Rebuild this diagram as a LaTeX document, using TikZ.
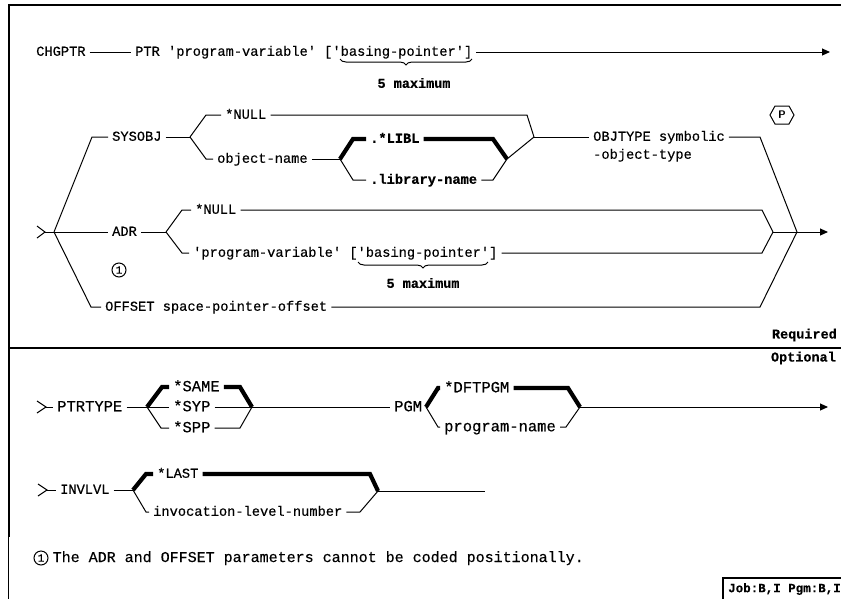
\documentclass[tikz,border=0pt]{standalone}
\usepackage{fontspec}
\setmonofont{Liberation Mono}[FakeBold=0.4]
\usetikzlibrary{arrows.meta,decorations.pathreplacing,positioning}

\newcommand\sq{\textquotesingle}

\tikzset{
  rail/.style={line width=1pt},
  dflt/.style={line width=4.2pt, line join=miter},
  frame/.style={line width=1.7pt},
  kw/.style={font=\ttfamily\fontsize{13.7}{15}\selectfont, inner xsep=4pt, inner ysep=0pt,
    text height=7.5pt, text depth=0pt, anchor=west},
  kwb/.style={kw, font=\ttfamily\bfseries\fontsize{13.7}{15}\selectfont},
  kwl/.style={kw, font=\ttfamily\fontsize{15.5}{17}\selectfont, text height=8.5pt},
  lbl/.style={font=\ttfamily\bfseries\fontsize{13.5}{15}\selectfont, inner sep=0pt},
  tail/.style={-{Triangle[length=8pt,width=7pt]}},
  bracedown/.style={decorate, decoration={brace, mirror, amplitude=6pt}},
  fnote/.style={draw, circle, rail, minimum size=14pt, inner sep=0pt,
    font=\ttfamily\fontsize{11}{11}\selectfont},
}

\begin{document}
\begin{tikzpicture}[x=1pt,y=-1pt]
  \useasboundingbox (0,0) rectangle (841,598);
  \clip (0,0) rectangle (841,598);

  % frame
  \draw[frame] (9,348) -- (9,5) -- (845,5);
  \draw[frame] (9,348) -- (845,348);
  \draw[frame] (9,348) -- (9,537);
  \draw[rail] (8.5,537) -- (8.5,600);

  % required: CHGPTR PTR
  \node[kw] (chg) at (32,52) {CHGPTR};
  \node[kw] (ptr) at (131,52) {PTR \sq program-variable\sq{} [\sq basing-pointer\sq]};
  \coordinate (end1) at (830,52);
  \draw[rail] (chg) -- (ptr);
  \draw[rail,tail] (ptr) -- (end1);
  \draw[rail,bracedown] (340,59) -- (472,59);
  \node[lbl] (max1) at (414,83) {5 maximum};

  % positional marker
  \node[font=\sffamily\bfseries\fontsize{11}{12}\selectfont] (pmark) at (782,115) {P};
  \draw[rail] ([xshift=-12pt]pmark.center) -- ++(5,-9) -- ++(14,0) -- ++(5,9)
    -- ++(-5,9) -- ++(-14,0) -- cycle;

  % three alternatives
  \coordinate (entA) at (45,232);
  \coordinate (jA) at (54,232);
  \draw[rail] (37,226) -- (entA) -- (37,238);
  \draw[rail] (entA) -- (jA);
  \node[kw] (sysobj) at (108,137) {SYSOBJ};
  \node[kw] (adr) at (108,232) {ADR};
  \node[kw] (offset) at (101,307) {OFFSET space-pointer-offset};
  \draw[rail] (jA) -- (92,137) -- (sysobj);
  \draw[rail] (jA) -- (adr);
  \draw[rail] (jA) -- (91,307) -- (offset);

  % SYSOBJ
  \coordinate (jS) at (190,137);
  \coordinate (jS2) at (534,137);
  \node[kw] (null1) at (221,115) {*NULL};
  \node[kw] (objn) at (213,159) {object-name};
  \draw[rail] (sysobj) -- (jS);
  \draw[rail] (jS) -- (206,115) -- (null1);
  \draw[rail] (null1) -- (527,115) -- (jS2);
  \draw[rail] (jS) -- (206,159) -- (objn);

  \coordinate (jL) at (340,159);
  \coordinate (jL2) at (507,159);
  \node[kwb] (libl) at (366,139) {.*LIBL};
  \node[kwb] (lib) at (366,180) {.library-name};
  \draw[rail] (objn) -- (jL);
  \draw[dflt] (jL) -- (353,139) -- (libl);
  \draw[dflt] (libl) -- (493,139) -- (jL2);
  \draw[rail] (jL) -- (353,180) -- (lib);
  \draw[rail] (lib) -- (493,180) -- (jL2);
  \draw[rail] (jL2) -- (jS2);

  \coordinate (jR) at (797,232);
  \node[kw] (objt) at (589,137) {OBJTYPE symbolic};
  \node[kw] (objt2) at (589,155) {-object-type};
  \draw[rail] (jS2) -- (objt);
  \draw[rail] (objt) -- (760,137) -- (jR);

  % ADR
  \coordinate (jD) at (166,232);
  \coordinate (jM) at (773,232);
  \node[kw] (null2) at (191,210) {*NULL};
  \node[kw] (pv) at (189,253) {\sq program-variable\sq{} [\sq basing-pointer\sq]};
  \draw[rail] (adr) -- (jD);
  \draw[rail] (jD) -- (182,210) -- (null2);
  \draw[rail] (null2) -- (762,210) -- (jM);
  \draw[rail] (jD) -- (182,253) -- (pv);
  \draw[rail] (pv) -- (762,253) -- (jM);
  \draw[rail] (jM) -- (jR);
  \draw[rail] (offset) -- (760,307) -- (jR);
  \coordinate (end2) at (828,232);
  \draw[rail,tail] (jR) -- (end2);
  \draw[rail,bracedown] (358,262) -- (488,262);
  \node[lbl] (max2) at (423,283) {5 maximum};
  \node[fnote] (note1) at (119,270) {1};

  \node[lbl, anchor=east] (req) at (837,335) {Required};
  \node[lbl, anchor=east] (opt) at (836,358) {Optional};

  % optional: PTRTYPE and PGM
  \coordinate (entP) at (46,407);
  \draw[rail] (37,401) -- (entP) -- (37,413);
  \node[kwl] (ptrt) at (53,407) {PTRTYPE};
  \draw[rail] (entP) -- (ptrt);
  \coordinate (jP) at (147,407);
  \coordinate (jP2) at (252,407);
  \node[kwl] (same) at (169,387) {*SAME};
  \node[kwl] (syp) at (169,407) {*SYP};
  \node[kwl] (spp) at (169,428) {*SPP};
  \draw[rail] (ptrt) -- (jP);
  \draw[dflt] (jP) -- (162,387) -- (same);
  \draw[dflt] (same) -- (240,387) -- (jP2);
  \draw[rail] (jP) -- (syp);
  \draw[rail] (syp) -- (jP2);
  \draw[rail] (jP) -- (161,428) -- (spp);
  \draw[rail] (spp) -- (240,428) -- (jP2);

  \node[kwl] (pgm) at (390,407) {PGM};
  \coordinate (jQ) at (426,407);
  \coordinate (jQ2) at (580,407);
  \node[kwl] (dft) at (440,388) {*DFTPGM};
  \node[kwl] (pgn) at (440,427) {program-name};
  \draw[rail] (jP2) -- (pgm);
  \draw[rail] (pgm) -- (jQ);
  \draw[dflt] (jQ) -- (438,388) -- (dft);
  \draw[dflt] (dft) -- (568,388) -- (jQ2);
  \draw[rail] (jQ) -- (438,427) -- (pgn);
  \draw[rail] (pgn) -- (566,427) -- (jQ2);
  \coordinate (end3) at (828,407);
  \draw[rail,tail] (jQ2) -- (end3);

  % optional: INVLVL
  \coordinate (entI) at (47,490);
  \draw[rail] (38,484) -- (entI) -- (38,496);
  \node[kw] (inv) at (56,490) {INVLVL};
  \draw[rail] (entI) -- (inv);
  \coordinate (jI) at (133,490);
  \coordinate (jI2) at (378,491);
  \node[kw] (last) at (153,474) {*LAST};
  \node[kw] (ivn) at (149,512) {invocation-level-number};
  \draw[rail] (inv) -- (jI);
  \draw[dflt] (jI) -- (146,474) -- (last);
  \draw[dflt] (last) -- (370,474) -- (jI2);
  \draw[rail] (jI) -- (146,512) -- (ivn);
  \draw[rail] (ivn) -- (360,512) -- (jI2);
  \coordinate (end4) at (485,491);
  \draw[rail] (jI2) -- (end4);

  % footnote
  \node[fnote] (fn) at (41,558) {1};
  \node[kw, font=\ttfamily\fontsize{15}{17}\selectfont, text height=8pt, right=0pt of fn] (fntext)
    {The ADR and OFFSET parameters cannot be coded positionally.};

  % attribute box
  \draw[line width=1.4pt] (723,600) -- (723,578) -- (845,578);
  \node[font=\ttfamily\bfseries\fontsize{12.5}{14}\selectfont, anchor=west, inner sep=0pt]
    (job) at (728,589) {Job:B,I Pgm:B,I};
\end{tikzpicture}
\end{document}
